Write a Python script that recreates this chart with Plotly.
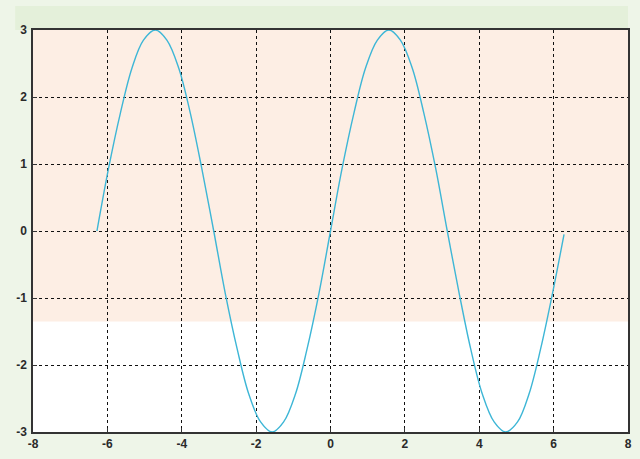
import plotly.graph_objects as go

x_vals = [-6.28, -5.97, -5.65, -5.34, -5.03, -4.71, -4.40, -4.08, -3.77, -3.46,
          -3.14, -2.83, -2.51, -2.20, -1.88, -1.57, -1.26, -0.94, -0.63, -0.31,
          0.00, 0.31, 0.63, 0.94, 1.26, 1.57, 1.88, 2.20, 2.51, 2.83,
          3.14, 3.46, 3.77, 4.08, 4.40, 4.71, 5.03, 5.34, 5.65, 5.97, 6.28]
y_vals = [0.00, 0.93, 1.76, 2.43, 2.85, 3.00, 2.85, 2.43, 1.76, 0.93,
          0.00, -0.93, -1.76, -2.43, -2.85, -3.00, -2.85, -2.43, -1.76, -0.93,
          0.00, 0.93, 1.76, 2.43, 2.85, 3.00, 2.85, 2.43, 1.76, 0.93,
          0.00, -0.93, -1.76, -2.43, -2.85, -3.00, -2.85, -2.43, -1.76, -0.93, -0.05]
x_ticks = [-8, -6, -4, -2, 0, 2, 4, 6, 8]
y_ticks = [-3, -2, -1, 0, 1, 2, 3]

fig = go.Figure()
fig.add_trace(go.Scatter(x=x_vals, y=y_vals, mode="lines",
                         line=dict(color="#3db6d6", width=1.4, shape="spline"),
                         hoverinfo="skip"))

# background tint: peach upper area, white lower area
fig.add_shape(type="rect", xref="x", yref="y", x0=-8, x1=8, y0=-1.35, y1=3,
              fillcolor="#fdeee4", line_width=0, layer="below")
fig.add_shape(type="rect", xref="paper", yref="paper", x0=-0.03, x1=1.0, y0=1.0, y1=1.06,
              fillcolor="#e4f0da", line_width=0, layer="below")

axis_common = dict(showgrid=True, gridcolor="#111111", gridwidth=1, griddash="3px,3px",
                   zeroline=False, showline=True, linecolor="#333333", linewidth=1.5,
                   mirror=True, ticks="inside", ticklen=4, tickcolor="#333333",
                   automargin=False,
                   tickfont=dict(family="Liberation Sans, Arial", size=12, color="#2a2a2a",
                                 weight="bold"))

fig.update_xaxes(range=[-8, 8], tickvals=x_ticks, ticktext=[str(v) for v in x_ticks],
                 **axis_common)
fig.update_yaxes(range=[-3, 3], tickvals=y_ticks, ticktext=[str(v) for v in y_ticks],
                 ticklabelstandoff=2, **axis_common)

fig.update_layout(width=640, height=459, showlegend=False,
                  margin=dict(l=33, r=12, t=30, b=27),
                  paper_bgcolor="#eef5e8", plot_bgcolor="#ffffff")

fig.write_html("out.html", config={"displayModeBar": False},
               post_script="document.body.style.margin='0';")
